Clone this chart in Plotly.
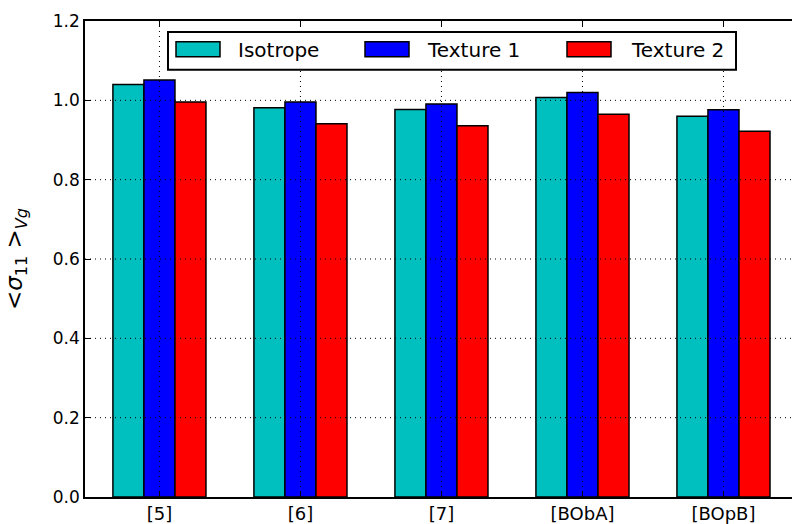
import plotly.graph_objects as go

categories = ["[5]", "[6]", "[7]", "[BObA]", "[BOpB]"]
isotrope = [1.040, 0.981, 0.977, 1.007, 0.960]
texture1 = [1.051, 0.996, 0.991, 1.020, 0.976]
texture2 = [0.996, 0.941, 0.936, 0.965, 0.922]
series_names = ["Isotrope", "Texture 1", "Texture 2"]
series_colors = ["#00BFBF", "#0000FF", "#FF0000"]
y_ticks = [0.0, 0.2, 0.4, 0.6, 0.8, 1.0, 1.2]

FONT = "DejaVu Sans"
W, H = 792, 524
ML, MT, MB, MR = 85, 21, 24, 0
PW, PH = W - ML - MR, H - MT - MB

fig = go.Figure()
for name, vals, col in zip(series_names, [isotrope, texture1, texture2], series_colors):
    fig.add_trace(go.Bar(
        x=categories, y=vals, name=name,
        marker=dict(color=col, line=dict(color="black", width=1.5)),
        showlegend=False,
    ))

shapes = []
# dotted grid drawn above bars (as in matplotlib classic)
for t in y_ticks[1:-1]:
    shapes.append(dict(type="line", xref="paper", yref="y", x0=0, x1=1, y0=t, y1=t,
                       line=dict(color="black", width=1, dash="1px,4px"), layer="above"))
for c in categories:
    shapes.append(dict(type="line", xref="x", yref="paper", x0=c, x1=c, y0=0, y1=1,
                       line=dict(color="black", width=1, dash="1px,4px"), layer="above"))

def px_x(p):
    return (p - ML) / PW

def px_y(p):
    return (H - MB - p) / PH

# legend box
shapes.append(dict(type="rect", xref="paper", yref="paper",
                   x0=px_x(168), x1=px_x(736), y0=px_y(70), y1=px_y(32),
                   line=dict(color="black", width=2), fillcolor="white", layer="above"))
annotations = []
sw_left = [176, 365, 567]
txt_left = [236, 425, 629]
for name, col, sl, tl in zip(series_names, series_colors, sw_left, txt_left):
    shapes.append(dict(type="rect", xref="paper", yref="paper",
                       x0=px_x(sl), x1=px_x(sl + 44), y0=px_y(57), y1=px_y(42),
                       line=dict(color="black", width=1.5), fillcolor=col, layer="above"))
    annotations.append(dict(xref="paper", yref="paper", x=px_x(tl), y=px_y(50),
                            xanchor="left", yanchor="middle", text=name, showarrow=False,
                            font=dict(family=FONT, size=20, color="black")))

fig.update_layout(
    width=W, height=H,
    margin=dict(l=ML, r=MR, t=MT, b=MB, pad=0),
    paper_bgcolor="white", plot_bgcolor="white",
    barmode="group", bargap=0.34, bargroupgap=0,
    font=dict(family=FONT, size=17, color="black"),
    shapes=shapes, annotations=annotations,
    showlegend=False,
)
fig.update_xaxes(
    type="category", range=[-0.528, 4.486],
    showline=True, linecolor="black", linewidth=1.5, mirror="ticks",
    ticks="inside", ticklen=6, tickcolor="black", tickwidth=1,
    showgrid=False, zeroline=False,
    tickfont=dict(family=FONT, size=18, color="black"),
)
fig.update_yaxes(
    range=[0, 1.2], tickvals=y_ticks, tickformat=".1f",
    showline=True, linecolor="black", linewidth=1.5, mirror=False,
    ticks="inside", ticklen=6, tickcolor="black", tickwidth=1,
    showgrid=False, zeroline=False,
    tickfont=dict(family=FONT, size=17, color="black"),
    title=dict(text="&lt;<i>σ</i><sub>11</sub> &gt;<sub><i>V</i><i>g</i></sub>",
               font=dict(family=FONT, size=23, color="black"), standoff=24),
)

fig.write_html(
    "out.html",
    config={"displayModeBar": False},
    post_script="document.body.style.margin='0px';document.body.style.overflow='hidden';",
)
